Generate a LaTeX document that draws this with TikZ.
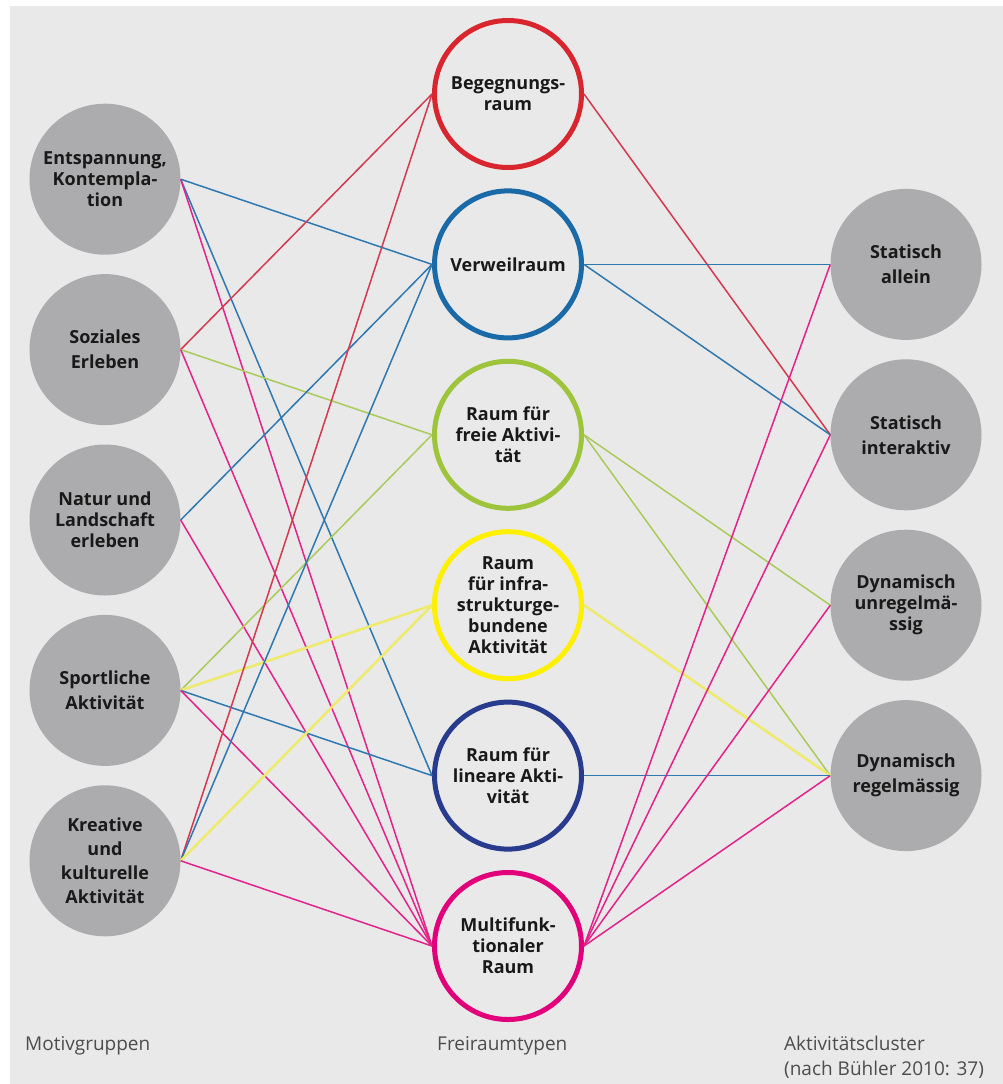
\documentclass[tikz,border=0pt]{standalone}
\usepackage{fontspec}
\setmainfont{Open Sans}
\definecolor{bggray}{HTML}{E9E9E9}
\definecolor{nodegray}{HTML}{ACACAE}
\definecolor{cred}{HTML}{D9262E}
\definecolor{cblue}{HTML}{1A6AA8}
\definecolor{cgreen}{HTML}{9DC43A}
\definecolor{cyellow}{HTML}{FFF000}
\definecolor{cnavy}{HTML}{283B8C}
\definecolor{cmag}{HTML}{E2007A}
\definecolor{lred}{HTML}{D3394F}
\definecolor{lblue}{HTML}{2F78B0}
\definecolor{lgreen}{HTML}{AACB5A}
\definecolor{lyellow}{HTML}{EEEA6A}
\definecolor{lmag}{HTML}{E2238A}
\definecolor{foot}{HTML}{4D4D4D}
\tikzset{
  graycirc/.style={circle, fill=nodegray, minimum size=151pt, inner sep=0pt, align=center,
    font=\bfseries\fontsize{18}{21}\selectfont, text=black!90},
  ringcirc/.style={circle, draw=#1, line width=5pt, minimum size=147pt, inner sep=0pt, align=center,
    font=\bfseries\fontsize{18}{21}\selectfont, text=black!90},
  conn/.style={draw=#1, line width=1.5pt},
  yconn/.style={draw=lyellow, line width=2.5pt},
  footlabel/.style={inner sep=0pt, text=foot, font=\fontsize{19}{25}\selectfont, align=left}
}
\begin{document}
\begin{tikzpicture}[x=1pt,y=-1pt]
\useasboundingbox (0,0) rectangle (1003,1084);
\fill[white] (0,0) rectangle (1003,1084);
\fill[bggray] (10,6) rectangle (1003,1084);

% left column
\node[graycirc] (L1) at (105,179.2) {Entspannung,\\Kontempla-\\tion};
\node[graycirc] (L2) at (105,349.6) {Soziales\\[4pt]Erleben};
\node[graycirc] (L3) at (105,520) {Natur und\\Landschaft\\erleben};
\node[graycirc] (L4) at (105,690.4) {Sportliche\\[4pt]Aktivität};
\node[graycirc] (L5) at (105,860.8) {Kreative\\[3pt]und\\[3pt]kulturelle\\[3pt]Aktivität};

% middle column
\node[ringcirc=cred] (M1) at (508,94) {Begegnungs-\\raum};
\node[ringcirc=cblue] (M2) at (508,264.4) {Verweilraum};
\node[ringcirc=cgreen] (M3) at (508,434.8) {Raum für\\freie Aktivi-\\tät};
\node[ringcirc=cyellow] (M4) at (508,605.2) {Raum\\für infra-\\strukturge-\\bundene\\Aktivität};
\node[ringcirc=cnavy] (M5) at (508,775.6) {Raum für\\lineare Akti-\\vität};
\node[ringcirc=cmag] (M6) at (508,946) {Multifunk-\\tionaler\\Raum};

% right column
\node[graycirc] (R1) at (906,264.4) {Statisch\\[4pt]allein};
\node[graycirc] (R2) at (906,434.8) {Statisch\\[4pt]interaktiv};
\node[graycirc] (R3) at (906,605.2) {Dynamisch\\unregelmä-\\ssig};
\node[graycirc] (R4) at (906,775.6) {Dynamisch\\[4pt]regelmässig};

% left -> middle
\draw[conn=lblue] (L1.east) -- (M2.west);
\draw[conn=lblue] (L1.east) -- (M5.west);
\draw[conn=lmag] (L1.east) -- (M6.west);
\draw[conn=lred] (L2.east) -- (M1.west);
\draw[conn=lgreen] (L2.east) -- (M3.west);
\draw[conn=lmag] (L2.east) -- (M6.west);
\draw[conn=lblue] (L3.east) -- (M2.west);
\draw[conn=lmag] (L3.east) -- (M6.west);
\draw[conn=lgreen] (L4.east) -- (M3.west);
\draw[yconn] (L4.east) -- (M4.west);
\draw[conn=lblue] (L4.east) -- (M5.west);
\draw[conn=lmag] (L4.east) -- (M6.west);
\draw[conn=lred] (L5.east) -- (M1.west);
\draw[conn=lblue] (L5.east) -- (M2.west);
\draw[yconn] (L5.east) -- (M4.west);
\draw[conn=lmag] (L5.east) -- (M6.west);

% middle -> right
\draw[conn=lred] (M1.east) -- (R2.west);
\draw[conn=lblue] (M2.east) -- (R1.west);
\draw[conn=lblue] (M2.east) -- (R2.west);
\draw[conn=lgreen] (M3.east) -- (R3.west);
\draw[conn=lgreen] (M3.east) -- (R4.west);
\draw[yconn] (M4.east) -- (R4.west);
\draw[conn=lblue] (M5.east) -- (R4.west);
\draw[conn=lmag] (M6.east) -- (R1.west);
\draw[conn=lmag] (M6.east) -- (R2.west);
\draw[conn=lmag] (M6.east) -- (R3.west);
\draw[conn=lmag] (M6.east) -- (R4.west);

% footer labels
\node[footlabel, anchor=base west] (F1) at (25,1050) {Motivgruppen};
\node[footlabel, anchor=base west] (F2) at (437,1050) {Freiraumtypen};
\node[footlabel, anchor=north west] (F3) at (784,1035.5) {Aktivitätscluster\\(nach Bühler 2010: 37)};
\end{tikzpicture}
\end{document}
